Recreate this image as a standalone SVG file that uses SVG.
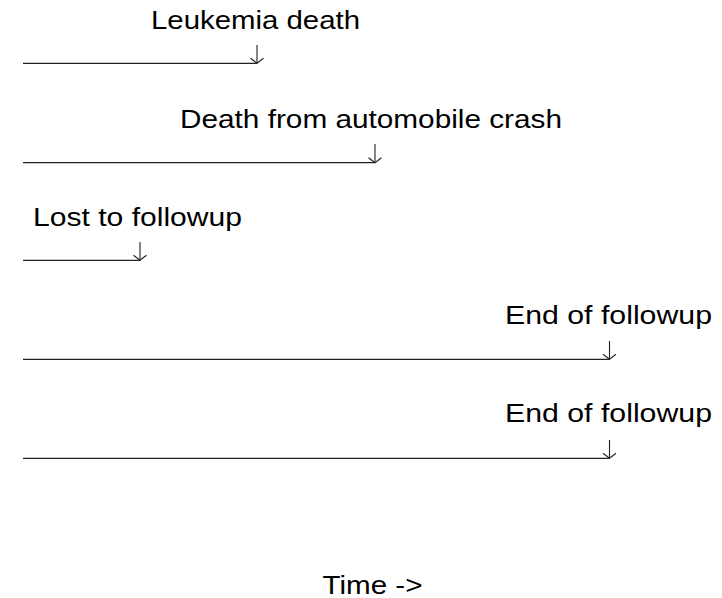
<svg xmlns="http://www.w3.org/2000/svg" width="722" height="598" viewBox="0 0 722 598">
  <defs>
    <style>
      .lbl { font-family: "Liberation Sans", Arial, sans-serif; font-size: 26.5px; fill: #000; }
      .tl { stroke: #222; stroke-width: 1.3; fill: none; }
      .ev { stroke: #222; stroke-width: 1.1; fill: none; marker-end: url(#head); }
    </style>
    <marker id="head" markerUnits="userSpaceOnUse" viewBox="-7 -8 8 16" refX="0" refY="0" markerWidth="8" markerHeight="16" orient="auto" overflow="visible">
      <path d="M-5,-6.5 L0,0 L-5,6.5" fill="none" stroke="#222" stroke-width="1.1"/>
    </marker>
  </defs>
  <rect width="722" height="598" fill="#fff"/>

  <g id="row-leukemia">
    <text class="lbl" x="151" y="29.3" textLength="209" lengthAdjust="spacingAndGlyphs">Leukemia death</text>
  </g>
  <g id="row-crash">
    <text class="lbl" x="180" y="127.8" textLength="382" lengthAdjust="spacingAndGlyphs">Death from automobile crash</text>
  </g>
  <g id="row-lost">
    <text class="lbl" x="33" y="226" textLength="209" lengthAdjust="spacingAndGlyphs">Lost to followup</text>
  </g>
  <g id="row-end1">
    <text class="lbl" x="505" y="323.5" textLength="207" lengthAdjust="spacingAndGlyphs">End of followup</text>
  </g>
  <g id="row-end2">
    <text class="lbl" x="505" y="422" textLength="207" lengthAdjust="spacingAndGlyphs">End of followup</text>
  </g>
  <g id="axis-label">
    <text class="lbl" x="322.5" y="593.5" textLength="100" lengthAdjust="spacingAndGlyphs">Time -&gt;</text>
  </g>

  <g id="connectors">
    <line class="tl" x1="23" y1="63.3" x2="257" y2="63.3"/>
    <line class="ev" x1="257" y1="45" x2="257" y2="63.3"/>
    <line class="tl" x1="23" y1="162.7" x2="375" y2="162.7"/>
    <line class="ev" x1="375" y1="144" x2="375" y2="162.7"/>
    <line class="tl" x1="23" y1="260.3" x2="140" y2="260.3"/>
    <line class="ev" x1="140" y1="242" x2="140" y2="260.3"/>
    <line class="tl" x1="23" y1="359.3" x2="609.5" y2="359.3"/>
    <line class="ev" x1="609.5" y1="341" x2="609.5" y2="359.3"/>
    <line class="tl" x1="23" y1="458.3" x2="609.5" y2="458.3"/>
    <line class="ev" x1="609.5" y1="440" x2="609.5" y2="458.3"/>
  </g>
</svg>
